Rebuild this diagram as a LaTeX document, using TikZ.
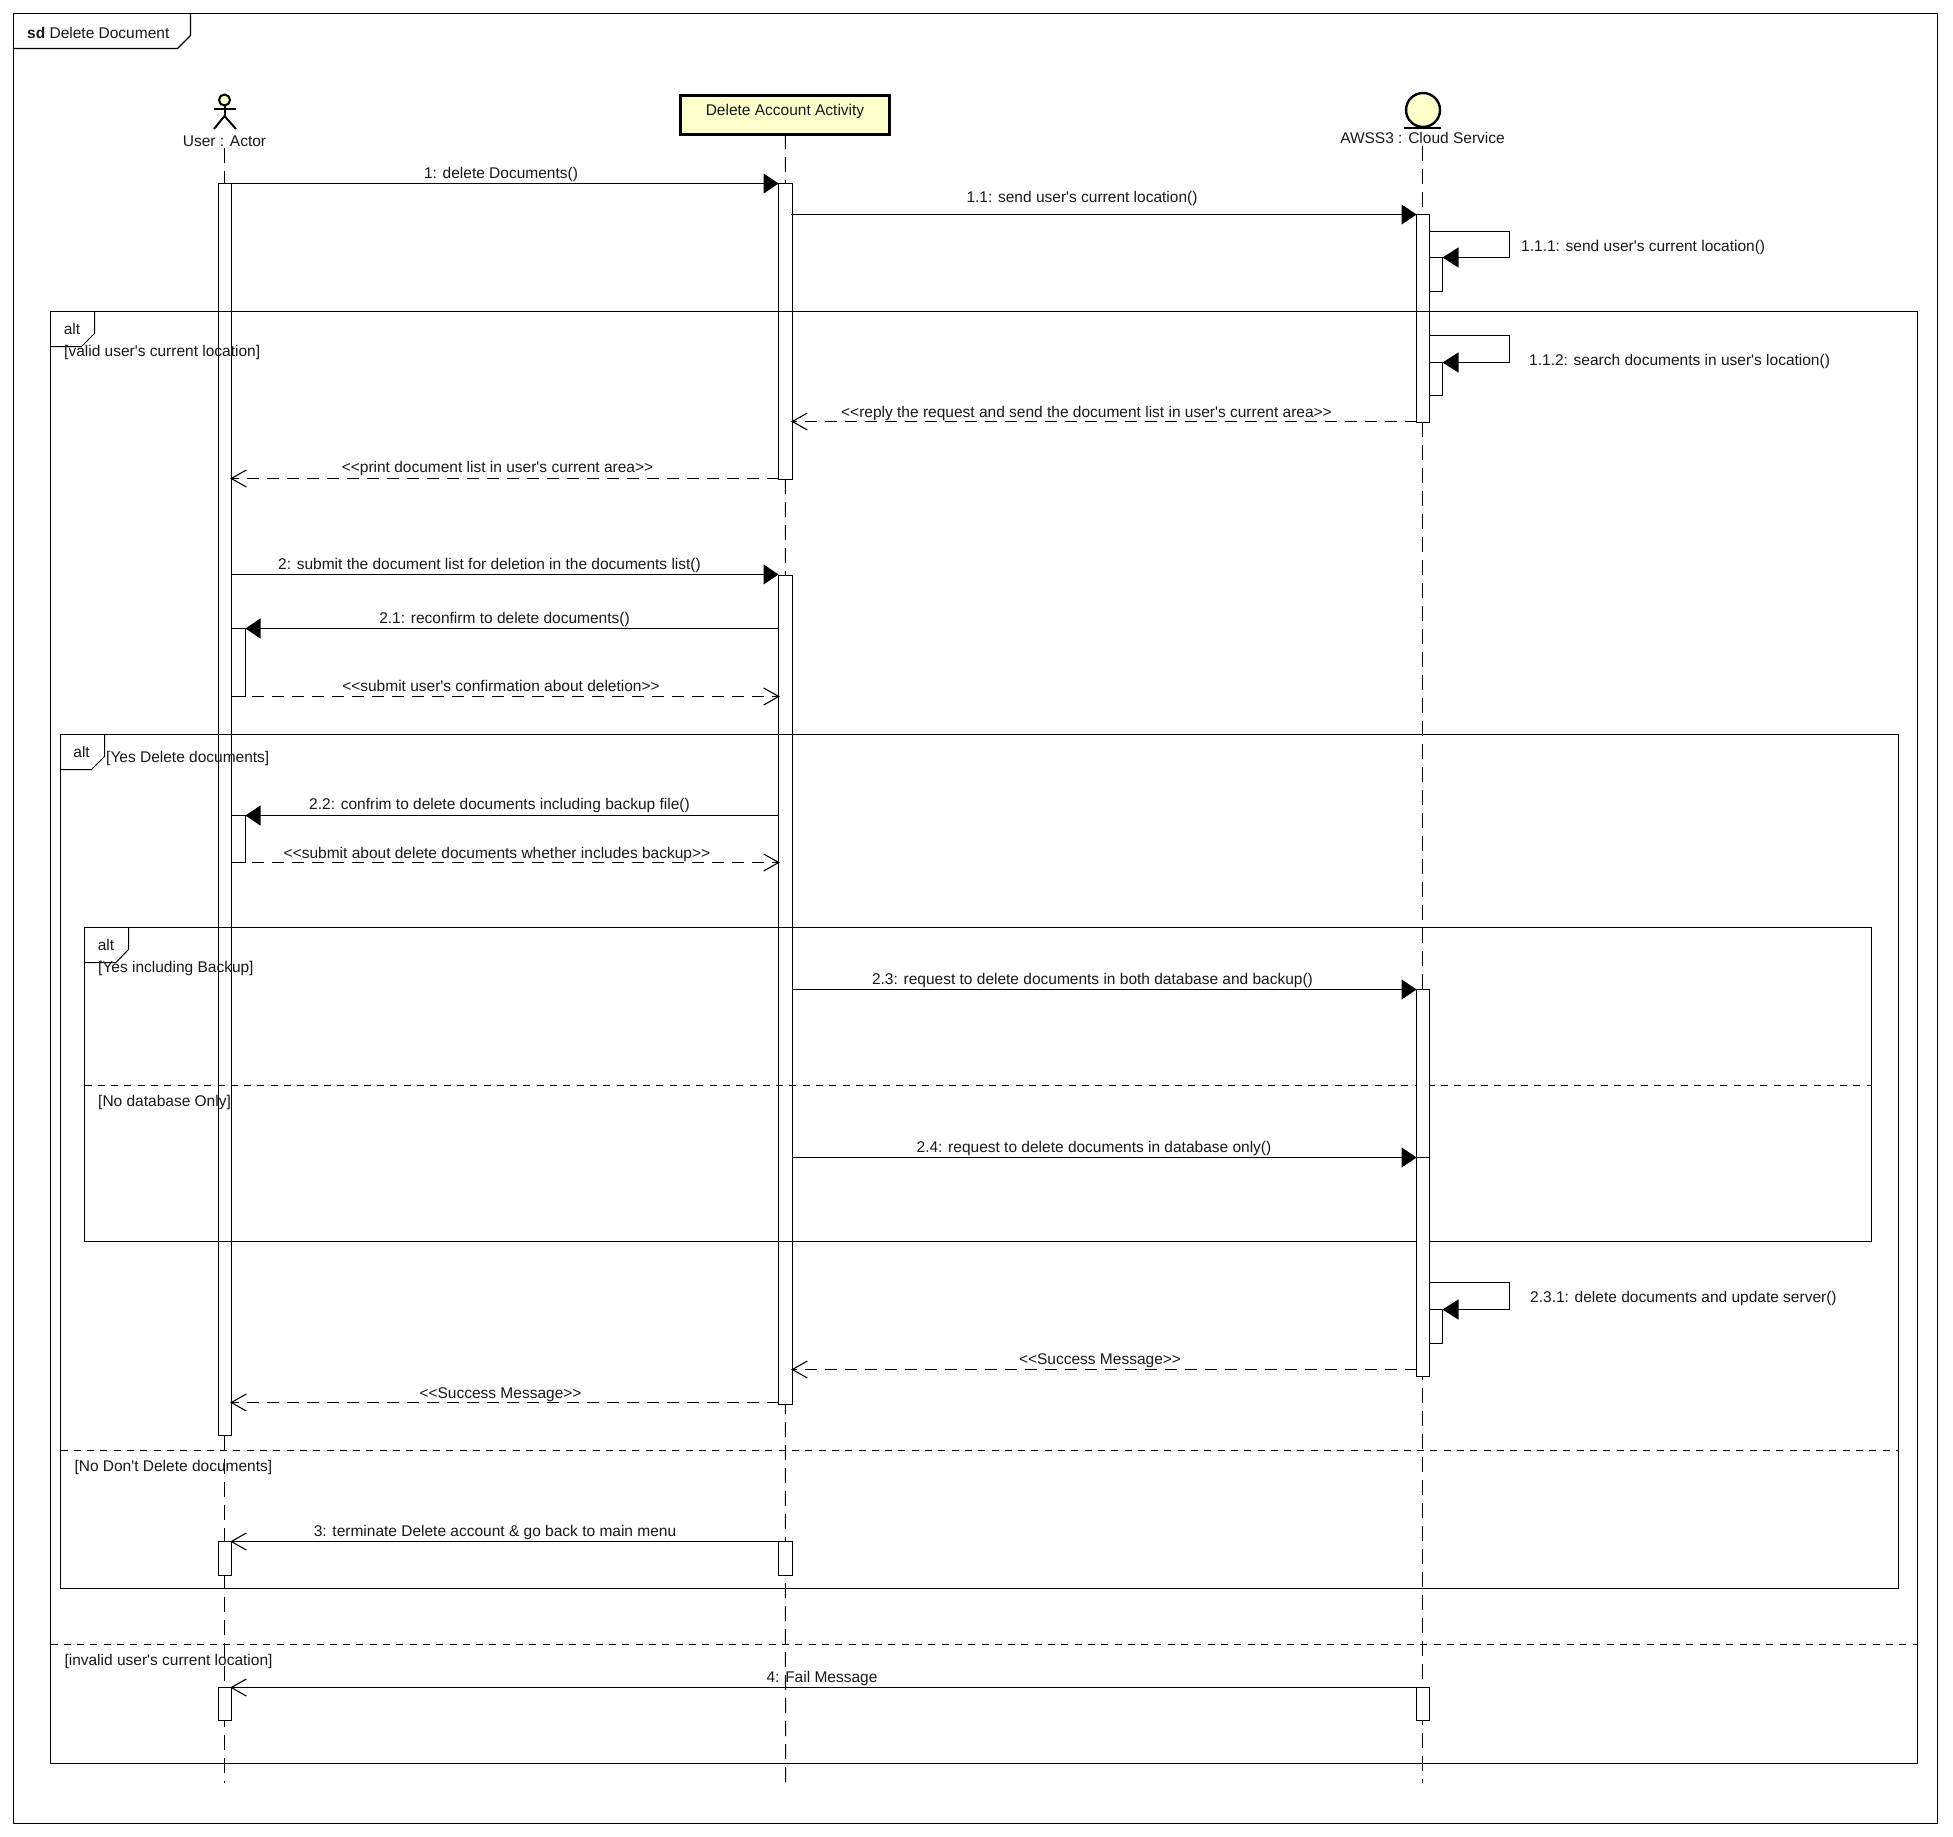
\documentclass[tikz,border=0pt]{standalone}
\usepackage{fontspec}
\usetikzlibrary{arrows.meta}
\newfontfamily\umlfont{Liberation Sans}
\definecolor{umlyellow}{HTML}{FFFFCC}
\tikzset{
  every node/.style={font=\umlfont\fontsize{15.5}{18}\selectfont, text=black!90, inner sep=0pt, text height=12.5pt, text depth=2pt},
  thinline/.style={black, line width=1pt},
  lifeline/.style={black, line width=1pt, dash pattern=on 15pt off 8pt},
  framedash/.style={black, line width=1pt, dash pattern=on 7pt off 6.3pt},
  actbar/.style={draw=black, fill=white, line width=1pt, outer sep=0pt, minimum width=13pt, text height=0pt, text depth=0pt},
  syncmsg/.style={black, line width=1.2pt, -{Triangle[length=15pt,width=20pt]}},
  selfmsg/.style={black, line width=1.2pt, -{Triangle[length=16pt,width=20pt]}},
  replymsg/.style={black, line width=1.2pt, dash pattern=on 12pt off 8pt, shorten >=-1.3pt, -{Straight Barb[length=15pt,width=17pt,line width=1.1pt]}},
  openmsg/.style={black, line width=1.2pt, shorten >=-1.3pt, -{Straight Barb[length=15pt,width=17pt,line width=1.1pt]}},
  guard/.style={anchor=west},
}
\begin{document}
\begin{tikzpicture}[x=1pt, y=-1pt]
\useasboundingbox (0,0) rectangle (1953,1836);
\fill[white] (0,0) rectangle (1953,1836);
% lifelines
\coordinate (userend) at (224.5,1783);
\coordinate (deleteend) at (785.5,1783);
\coordinate (awsend) at (1422.5,1783);
\node (userlabel) at (224.5,141) {User : Actor};
\node[draw=black, fill=umlyellow, line width=3pt, outer sep=0pt, minimum width=209pt, minimum height=39pt, text height=0pt, text depth=0pt] (deletebox) at (785.3,114.5) {};
\node (deletelabel) at (785,110) {Delete Account Activity};
\node (awslabel) at (1422.5,138.5) {AWSS3 : Cloud Service};
\draw[lifeline] (userlabel) -- (userend);
\draw[lifeline] (deletebox) -- (deleteend);
\draw[lifeline] (awslabel) -- (awsend);
% actor and entity
\draw[fill=umlyellow, line width=2pt] (224.5,100) circle (5.5);
\draw[line width=2pt] (214,109) -- (236,109);
\draw[line width=2pt] (224.5,106) -- (224.5,116);
\draw[line width=2pt] (214,129) -- (224.5,116) -- (236,129);
\draw[fill=umlyellow, line width=2.4pt] (1423,110) circle (17);
\draw[line width=2.6pt] (1404,128) -- (1441,128);
% activations
\node[actbar, minimum height=1252pt] (useract) at (225,809.5) {};
\node[actbar, minimum width=14pt, minimum height=68pt] (usernest1) at (238.5,662.5) {};
\node[actbar, minimum width=14pt, minimum height=47pt] (usernest2) at (238.5,839) {};
\node[actbar, minimum height=34pt] (useract2) at (225,1558.5) {};
\node[actbar, minimum height=33pt] (useract3) at (225,1704) {};
\node[actbar, minimum width=14pt, minimum height=296pt] (deleteact1) at (785.5,331.5) {};
\node[actbar, minimum width=14pt, minimum height=829pt] (deleteact2) at (785.5,990) {};
\node[actbar, minimum width=14pt, minimum height=34pt] (deleteact3) at (785.5,1558.5) {};
\node[actbar, minimum height=208pt] (awsact1) at (1423,318.5) {};
\node[actbar, minimum height=34pt] (awsnest1) at (1436,274.5) {};
\node[actbar, minimum height=33pt] (awsnest2) at (1436,379) {};
\node[actbar, minimum height=33pt] (awsact4) at (1423,1704) {};
% frames
\draw[line width=1.2pt] (13.5,13.5) rectangle (1937.5,1823.5);
\draw[line width=1.2pt] (13.5,48.5) -- (177.5,48.5) -- (190.5,35.5) -- (190.5,13.5);
\draw[thinline] (50.5,311.5) rectangle (1917.5,1763.5);
\draw[thinline] (50.5,346.5) -- (81.5,346.5) -- (94.5,333.5) -- (94.5,311.5);
\draw[framedash] (50.5,1644.5) -- (1917.5,1644.5);
\draw[thinline] (60.5,734.5) rectangle (1898.5,1588.5);
\draw[thinline] (60.5,769.5) -- (91.5,769.5) -- (104.5,756.5) -- (104.5,734.5);
\draw[framedash] (60.5,1450.5) -- (1898.5,1450.5);
\draw[thinline] (84.5,927.5) rectangle (1871.5,1241.5);
\draw[thinline] (84.5,962.5) -- (116,962.5) -- (128.5,949.5) -- (128.5,927.5);
\draw[framedash] (84.5,1085.5) -- (1871.5,1085.5);
% activations over the inner frame
\node[actbar, minimum height=168pt] (awsact2) at (1423,1073.5) {};
\node[actbar, minimum height=219pt] (awsact3) at (1423,1267) {};
\node[actbar, minimum height=34pt] (awsnest3) at (1436,1326.5) {};
% frame texts
\node[anchor=west] (sdname) at (27,33) {\textbf{sd} Delete Document};
\node (altouter) at (72,329) {alt};
\node (altmiddle) at (81.6,752) {alt};
\node (altinner) at (106,945) {alt};
\node[guard] (guardvalid) at (64,351.7) {[valid user's current location]};
\node[guard] (guardyes) at (106,757) {[Yes Delete documents]};
\node[guard] (guardbackup) at (98,967) {[Yes including Backup]};
\node[guard] (guarddb) at (98,1101) {[No database Only]};
\node[guard] (guardno) at (74.3,1466.7) {[No Don't Delete documents]};
\node[guard] (guardinvalid) at (64.3,1660.3) {[invalid user's current location]};
% messages
\draw[syncmsg] (useract.north east) -- (deleteact1.north west);
\node (m1t) at (501,173) {1: delete Documents()};
\coordinate (m11s) at (791,214.5);
\draw[syncmsg] (m11s) -- (awsact1.north west);
\node (m11t) at (1082,197) {1.1: send user's current location()};
\coordinate (m111s) at (1429.5,231.5);
\coordinate (m111a) at (1509.5,231.5);
\coordinate (m111b) at (1509.5,257.5);
\draw[selfmsg] (m111s) -- (m111a) -- (m111b) -- (awsnest1.north east);
\node[anchor=west] (m111t) at (1521,246.7) {1.1.1: send user's current location()};
\coordinate (m112s) at (1429.5,335.5);
\coordinate (m112a) at (1509.5,335.5);
\coordinate (m112b) at (1509.5,362.5);
\draw[selfmsg] (m112s) -- (m112a) -- (m112b) -- (awsnest2.north east);
\node[anchor=west] (m112t) at (1529,360) {1.1.2: search documents in user's location()};
\coordinate (m113s) at (1416.5,421.5);
\coordinate (m113e) at (792.5,421.5);
\draw[replymsg] (m113s) -- (m113e);
\node (m113t) at (1086.5,412) {<{}<reply the request and send the document list in user's current area>{}>};
\coordinate (m12s) at (778.5,478.5);
\coordinate (m12e) at (231.5,478.5);
\draw[replymsg] (m12s) -- (m12e);
\node (m12t) at (497.5,467) {<{}<print document list in user's current area>{}>};
\coordinate (m2s) at (231.5,574.5);
\coordinate (m2e) at (778.5,574.5);
\draw[syncmsg] (m2s) -- (m2e);
\node (m2t) at (489.5,564) {2: submit the document list for deletion in the documents list()};
\coordinate (m21s) at (778.5,628.5);
\draw[syncmsg] (m21s) -- (usernest1.north east);
\node (m21t) at (504.5,618) {2.1: reconfirm to delete documents()};
\coordinate (m22e) at (778.5,696.5);
\draw[replymsg] (usernest1.south west) -- (m22e);
\node (m22t) at (501,686) {<{}<submit user's confirmation about deletion>{}>};
\coordinate (m23s) at (778.5,815.5);
\draw[syncmsg] (m23s) -- (usernest2.north east);
\node (m23t) at (499.5,804.6) {2.2: confrim to delete documents including backup file()};
\coordinate (m24e) at (778.5,862.5);
\draw[replymsg] (usernest2.south west) -- (m24e);
\node (m24t) at (497,853) {<{}<submit about delete documents whether includes backup>{}>};
\coordinate (m25s) at (792.5,989.5);
\draw[syncmsg] (m25s) -- (awsact2.north west);
\node (m25t) at (1092.5,979.6) {2.3: request to delete documents in both database and backup()};
\coordinate (m26s) at (792.5,1157.5);
\draw[syncmsg] (m26s) -- (awsact3.north west);
\node (m26t) at (1094,1147) {2.4: request to delete documents in database only()};
\coordinate (m27s) at (1429.5,1282.5);
\coordinate (m27a) at (1509.5,1282.5);
\coordinate (m27b) at (1509.5,1309.5);
\draw[selfmsg] (m27s) -- (m27a) -- (m27b) -- (awsnest3.north east);
\node[anchor=west] (m27t) at (1530,1297.7) {2.3.1: delete documents and update server()};
\coordinate (m28s) at (1416.5,1369.5);
\coordinate (m28e) at (792.5,1369.5);
\draw[replymsg] (m28s) -- (m28e);
\node (m28t) at (1100,1359.5) {<{}<Success Message>{}>};
\coordinate (m29s) at (778.5,1402.5);
\coordinate (m29e) at (231.5,1402.5);
\draw[replymsg] (m29s) -- (m29e);
\node (m29t) at (500.5,1393) {<{}<Success Message>{}>};
\draw[openmsg] (deleteact3.north west) -- (useract2.north east);
\node (m3t) at (495,1531) {3: terminate Delete account \& go back to main menu};
\draw[openmsg] (awsact4.north west) -- (useract3.north east);
\node (m4t) at (822,1677) {4: Fail Message};
\end{tikzpicture}
\end{document}
